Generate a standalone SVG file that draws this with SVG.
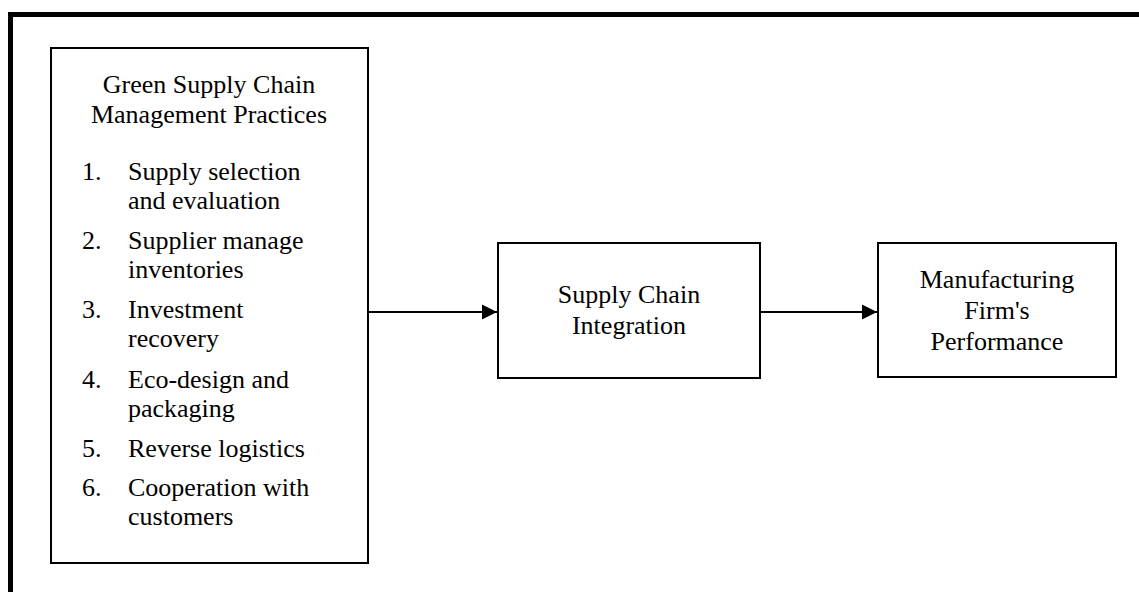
<svg xmlns="http://www.w3.org/2000/svg" width="1139" height="592" viewBox="0 0 1139 592">
<defs>
<style>
.box{fill:#fff;stroke:#000;stroke-width:2}
.t{font-family:"Liberation Serif","Times New Roman",serif;font-size:26px;fill:#000}
.c{text-anchor:middle}
.conn{stroke:#000;stroke-width:2;fill:none}
</style>
<marker id="arr" markerUnits="userSpaceOnUse" markerWidth="16" markerHeight="16" refX="15" refY="8" orient="auto">
<path d="M0,0.5 L15,8 L0,15.5 Z" fill="#000"/>
</marker>
</defs>
<rect width="1139" height="592" fill="#fff"/>
<path d="M10.5,600 V14.5 H1150" fill="none" stroke="#000" stroke-width="5"/>
<g id="gscm">
<rect class="box" x="51" y="48" width="317" height="515"/>
<text class="t c" x="209" y="93">Green Supply Chain</text>
<text class="t c" x="209" y="123">Management Practices</text>
<text class="t" x="82" y="180">1.</text><text class="t" x="128" y="180">Supply selection</text>
<text class="t" x="128" y="209">and evaluation</text>
<text class="t" x="82" y="249">2.</text><text class="t" x="128" y="249">Supplier manage</text>
<text class="t" x="128" y="278">inventories</text>
<text class="t" x="82" y="318">3.</text><text class="t" x="128" y="318">Investment</text>
<text class="t" x="128" y="347">recovery</text>
<text class="t" x="82" y="388">4.</text><text class="t" x="128" y="388">Eco-design and</text>
<text class="t" x="128" y="417">packaging</text>
<text class="t" x="82" y="457">5.</text><text class="t" x="128" y="457">Reverse logistics</text>
<text class="t" x="82" y="496">6.</text><text class="t" x="128" y="496">Cooperation with</text>
<text class="t" x="128" y="525">customers</text>
</g>
<g id="sci">
<rect class="box" x="498" y="243" width="262" height="135"/>
<text class="t c" x="629" y="303">Supply Chain</text>
<text class="t c" x="629" y="334">Integration</text>
</g>
<g id="mfp">
<rect class="box" x="878" y="243" width="238" height="134"/>
<text class="t c" x="997" y="288">Manufacturing</text>
<text class="t c" x="997" y="319">Firm's</text>
<text class="t c" x="997" y="350">Performance</text>
</g>
<g id="connectors">
<line class="conn" x1="368" y1="312" x2="497" y2="312" marker-end="url(#arr)"/>
<line class="conn" x1="760" y1="312" x2="877" y2="312" marker-end="url(#arr)"/>
</g>
</svg>
